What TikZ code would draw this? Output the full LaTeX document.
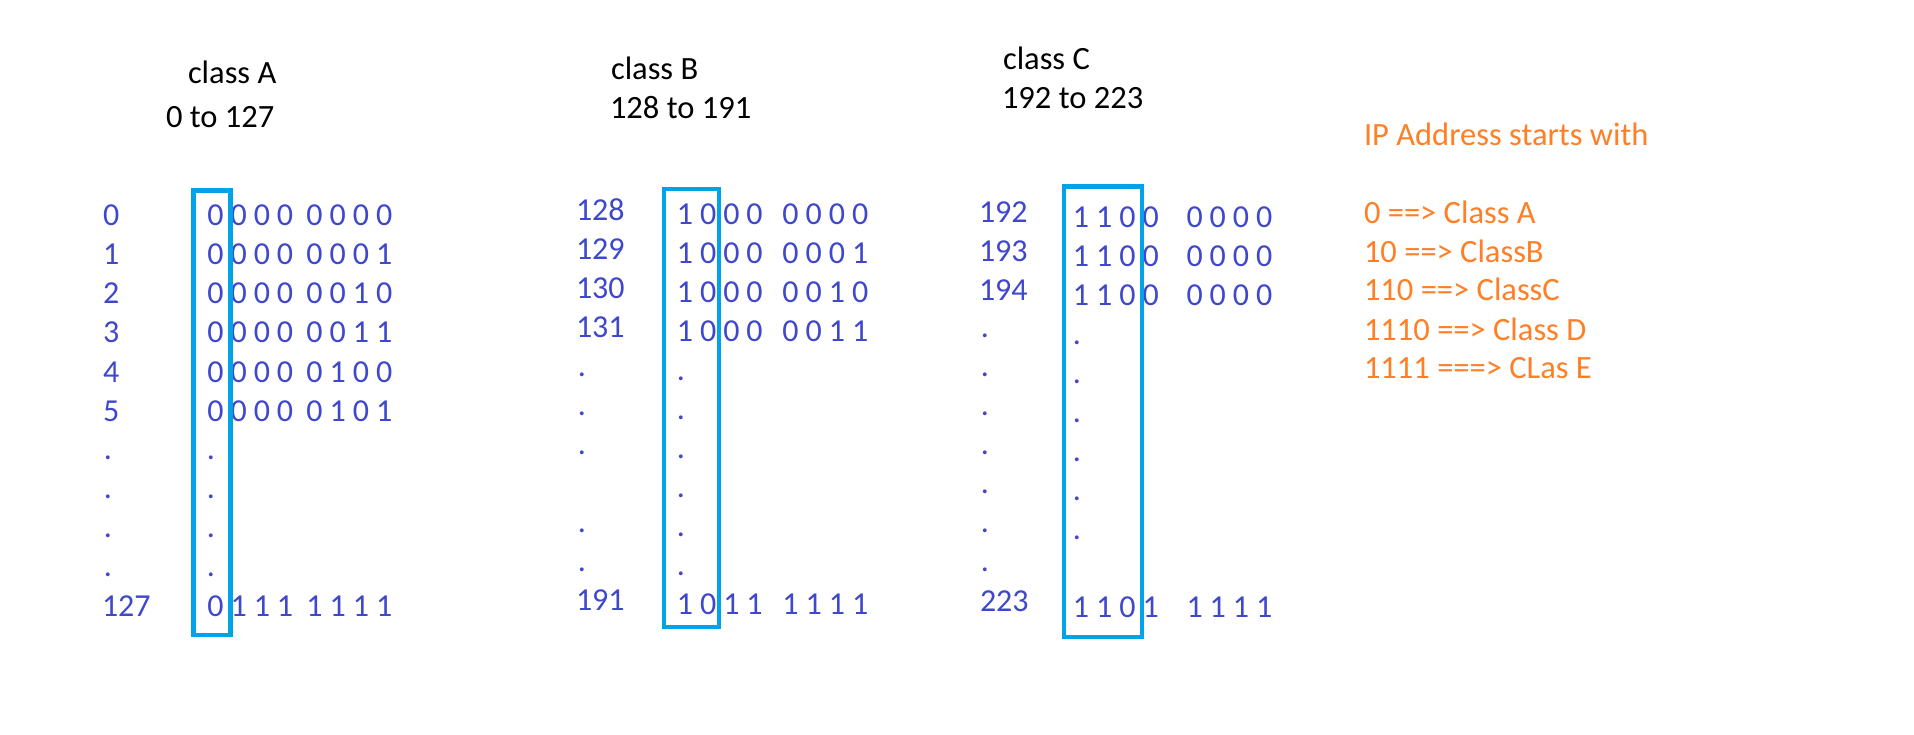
\documentclass[tikz,border=0pt]{standalone}
\usepackage{fontspec}
\setmainfont{Carlito}
\definecolor{bitblue}{HTML}{3F48CC}
\definecolor{boxblue}{HTML}{00A2E8}
\definecolor{ipor}{HTML}{FF7F27}
\newlength\bitpitch \setlength\bitpitch{23.2pt}
\newcommand\bb[1]{\makebox[\bitpitch][c]{#1}}
\newcommand\bq[4]{\bb{#1}\bb{#2}\bb{#3}\bb{#4}}
\newcommand\bitrow[3]{\bq#1\hspace{#3}\bq#2}
\tikzset{
  ttl/.style={anchor=base west, inner sep=0pt, outer sep=0pt, font=\fontsize{32.5}{38}\selectfont, text=black},
  lbl/.style={anchor=base west, inner sep=0pt, outer sep=0pt, font=\fontsize{32}{38}\selectfont, text=bitblue},
  dotn/.style={anchor=base, inner sep=0pt, outer sep=0pt, font=\fontsize{32}{38}\selectfont, text=bitblue},
  ipt/.style={ttl, text=ipor},
  selbox/.style={draw=boxblue, line width=4.5pt}
}
\begin{document}
\begin{tikzpicture}[x=1pt, y=-1pt]
\fill[white] (0,0) rectangle (1914,734);
\path[use as bounding box] (0,0) rectangle (1914,734);

% ---------- Class A ----------
\node[ttl] (tA) at (188,83) {class A};
\node[ttl] (rA) at (166,127) {0 to 127};
\node[lbl] (aL0) at (103,225) {0};
\node[lbl] (aL1) at (103,264) {1};
\node[lbl] (aL2) at (103,303) {2};
\node[lbl] (aL3) at (103,342) {3};
\node[lbl] (aL4) at (103,382) {4};
\node[lbl] (aL5) at (103,421) {5};
\node[dotn] (aLd1) at (108,459.6) {.};
\node[dotn] (aLd2) at (108,498.7) {.};
\node[dotn] (aLd3) at (108,537.8) {.};
\node[dotn] (aLd4) at (108,576.9) {.};
\node[lbl] (aL127) at (102,616) {127};
\node[lbl] (aB0) at (203.9,225) {\bitrow{0000}{0000}{6.3pt}};
\node[lbl] (aB1) at (203.9,264) {\bitrow{0000}{0001}{6.3pt}};
\node[lbl] (aB2) at (203.9,303) {\bitrow{0000}{0010}{6.3pt}};
\node[lbl] (aB3) at (203.9,342) {\bitrow{0000}{0011}{6.3pt}};
\node[lbl] (aB4) at (203.9,382) {\bitrow{0000}{0100}{6.3pt}};
\node[lbl] (aB5) at (203.9,421) {\bitrow{0000}{0101}{6.3pt}};
\node[dotn] (aBd1) at (211,459.6) {.};
\node[dotn] (aBd2) at (211,498.7) {.};
\node[dotn] (aBd3) at (211,537.8) {.};
\node[dotn] (aBd4) at (211,576.9) {.};
\node[lbl] (aB127) at (203.9,616) {\bitrow{0111}{1111}{6.3pt}};
\draw[selbox] (193.5,190.5) rectangle (230.5,635);

% ---------- Class B ----------
\node[ttl] (tB) at (611,79) {class B};
\node[ttl] (rB) at (610,118) {128 to 191};
\node[lbl] (bL128) at (576,220) {128};
\node[lbl] (bL129) at (576,259) {129};
\node[lbl] (bL130) at (576,298) {130};
\node[lbl] (bL131) at (576,337) {131};
\node[dotn] (bLd1) at (582,376) {.};
\node[dotn] (bLd2) at (582,415) {.};
\node[dotn] (bLd3) at (582,454) {.};
\node[dotn] (bLd4) at (582,532) {.};
\node[dotn] (bLd5) at (582,571) {.};
\node[lbl] (bL191) at (576,610) {191};
\node[lbl] (bB128) at (673.4,224) {\bitrow{1000}{0000}{12.8pt}};
\node[lbl] (bB129) at (673.4,263) {\bitrow{1000}{0001}{12.8pt}};
\node[lbl] (bB130) at (673.4,302) {\bitrow{1000}{0010}{12.8pt}};
\node[lbl] (bB131) at (673.4,341) {\bitrow{1000}{0011}{12.8pt}};
\node[dotn] (bBd1) at (681,380) {.};
\node[dotn] (bBd2) at (681,419) {.};
\node[dotn] (bBd3) at (681,458) {.};
\node[dotn] (bBd4) at (681,497) {.};
\node[dotn] (bBd5) at (681,536) {.};
\node[dotn] (bBd6) at (681,575) {.};
\node[lbl] (bB191) at (673.4,614) {\bitrow{1011}{1111}{12.8pt}};
\draw[selbox] (664,189) rectangle (719,627);

% ---------- Class C ----------
\node[ttl] (tC) at (1003,69) {class C};
\node[ttl] (rC) at (1002,108) {192 to 223};
\node[lbl] (cL192) at (979,222) {192};
\node[lbl] (cL193) at (979,261) {193};
\node[lbl] (cL194) at (979,300) {194};
\node[dotn] (cLd1) at (985,337.5) {.};
\node[dotn] (cLd2) at (985,376.5) {.};
\node[dotn] (cLd3) at (985,415.5) {.};
\node[dotn] (cLd4) at (985,454.5) {.};
\node[dotn] (cLd5) at (985,493.5) {.};
\node[dotn] (cLd6) at (985,532.5) {.};
\node[dotn] (cLd7) at (985,571.5) {.};
\node[lbl] (cL223) at (980,611) {223};
\node[lbl] (cB192) at (1069.4,227) {\bitrow{1100}{0000}{20.8pt}};
\node[lbl] (cB193) at (1069.4,266) {\bitrow{1100}{0000}{20.8pt}};
\node[lbl] (cB194) at (1069.4,305) {\bitrow{1100}{0000}{20.8pt}};
\node[dotn] (cBd1) at (1077,344) {.};
\node[dotn] (cBd2) at (1077,383) {.};
\node[dotn] (cBd3) at (1077,422) {.};
\node[dotn] (cBd4) at (1077,461) {.};
\node[dotn] (cBd5) at (1077,500) {.};
\node[dotn] (cBd6) at (1077,539) {.};
\node[lbl] (cB223) at (1069.4,617) {\bitrow{1101}{1111}{20.8pt}};
\draw[selbox] (1064,186.5) rectangle (1142,637);

% ---------- IP address legend ----------
\node[ipt] (ipH) at (1364,145) {IP Address starts with};
\node[ipt] (ip1) at (1364,223) {0 ==> Class A};
\node[ipt] (ip2) at (1364,262) {10 ==> ClassB};
\node[ipt] (ip3) at (1364,300) {110 ==> ClassC};
\node[ipt] (ip4) at (1364,340) {1110 ==> Class D};
\node[ipt] (ip5) at (1364,378) {1111 ===> CLas E};
\end{tikzpicture}
\end{document}
